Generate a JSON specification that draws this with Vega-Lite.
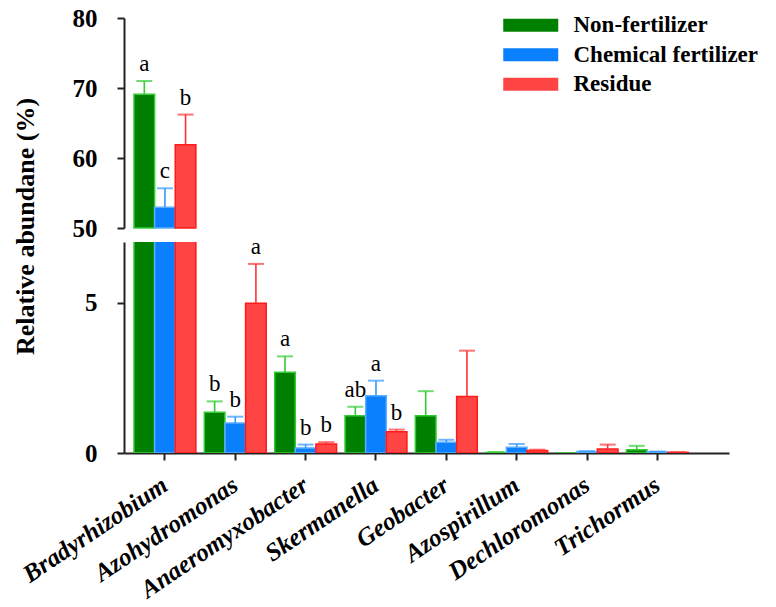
{
  "$schema": "https://vega.github.io/schema/vega-lite/v6.json",
  "background": "white",
  "padding": {"left": 11, "top": 6, "right": 5, "bottom": 5},
  "bounds": "flush",
  "config": {
    "view": {"stroke": null},
    "font": "Liberation Serif",
    "axis": {"grid": false, "domainColor": "#222222", "domainWidth": 2, "tickColor": "#222222", "tickWidth": 2, "tickSize": 7, "labelColor": "black", "labelFont": "Liberation Serif", "labelFontWeight": "bold", "titleFont": "Liberation Serif", "titleColor": "black"}
  },
  "datasets": {
    "d": [
      {"genus": "Bradyrhizobium", "treatment": "Non-fertilizer", "value": 69.1, "upper": 71.0, "label": "a"},
      {"genus": "Bradyrhizobium", "treatment": "Chemical fertilizer", "value": 52.95, "upper": 55.67, "label": "c"},
      {"genus": "Bradyrhizobium", "treatment": "Residue", "value": 61.9, "upper": 66.2, "label": "b"},
      {"genus": "Azohydromonas", "treatment": "Non-fertilizer", "value": 1.36, "upper": 1.72, "label": "b"},
      {"genus": "Azohydromonas", "treatment": "Chemical fertilizer", "value": 1.0, "upper": 1.21, "label": "b"},
      {"genus": "Azohydromonas", "treatment": "Residue", "value": 4.99, "upper": 6.3, "label": "a"},
      {"genus": "Anaeromyxobacter", "treatment": "Non-fertilizer", "value": 2.69, "upper": 3.22, "label": "a"},
      {"genus": "Anaeromyxobacter", "treatment": "Chemical fertilizer", "value": 0.17, "upper": 0.28, "label": "b"},
      {"genus": "Anaeromyxobacter", "treatment": "Residue", "value": 0.3, "upper": 0.36, "label": "b"},
      {"genus": "Skermanella", "treatment": "Non-fertilizer", "value": 1.24, "upper": 1.54, "label": "ab"},
      {"genus": "Skermanella", "treatment": "Chemical fertilizer", "value": 1.91, "upper": 2.41, "label": "a"},
      {"genus": "Skermanella", "treatment": "Residue", "value": 0.71, "upper": 0.78, "label": "b"},
      {"genus": "Geobacter", "treatment": "Non-fertilizer", "value": 1.24, "upper": 2.06, "label": ""},
      {"genus": "Geobacter", "treatment": "Chemical fertilizer", "value": 0.36, "upper": 0.44, "label": ""},
      {"genus": "Geobacter", "treatment": "Residue", "value": 1.88, "upper": 3.41, "label": ""},
      {"genus": "Azospirillum", "treatment": "Non-fertilizer", "value": 0.02, "upper": 0.03, "label": ""},
      {"genus": "Azospirillum", "treatment": "Chemical fertilizer", "value": 0.19, "upper": 0.3, "label": ""},
      {"genus": "Azospirillum", "treatment": "Residue", "value": 0.08, "upper": 0.11, "label": ""},
      {"genus": "Dechloromonas", "treatment": "Non-fertilizer", "value": 0.0, "upper": 0.0, "label": ""},
      {"genus": "Dechloromonas", "treatment": "Chemical fertilizer", "value": 0.05, "upper": 0.06, "label": ""},
      {"genus": "Dechloromonas", "treatment": "Residue", "value": 0.13, "upper": 0.28, "label": ""},
      {"genus": "Trichormus", "treatment": "Non-fertilizer", "value": 0.11, "upper": 0.24, "label": ""},
      {"genus": "Trichormus", "treatment": "Chemical fertilizer", "value": 0.04, "upper": 0.05, "label": ""},
      {"genus": "Trichormus", "treatment": "Residue", "value": 0.02, "upper": 0.03, "label": ""}
    ]
  },
  "spacing": 14,
  "resolve": {"scale": {"fill": "shared", "stroke": "shared", "color": "shared"}, "legend": {"fill": "independent", "stroke": "independent", "color": "independent"}},
  "vconcat": [
    {
      "width": 605,
      "height": 210,
      "data": {"name": "d"},
      "transform": [{"filter": "datum.genus === 'Bradyrhizobium'"}],
      "encoding": {
        "x": {"field": "genus", "type": "nominal", "sort": null,
              "scale": {"domain": ["Bradyrhizobium", "Azohydromonas", "Anaeromyxobacter", "Skermanella", "Geobacter", "Azospirillum", "Dechloromonas", "Trichormus"], "paddingInner": 0.12, "paddingOuter": 0.36, "align": 0.197},
              "axis": null},
        "xOffset": {"field": "treatment", "type": "nominal", "sort": null,
                    "scale": {"domain": ["Non-fertilizer", "Chemical fertilizer", "Residue"], "paddingInner": 0, "paddingOuter": 0}}
      },
      "layer": [
        {
          "mark": {"type": "bar", "strokeWidth": 1.5},
          "encoding": {
            "y": {"field": "value", "type": "quantitative",
                  "scale": {"domain": [50, 80], "nice": false, "zero": false},
                  "axis": {"values": [50, 60, 70, 80], "title": null, "labelFontSize": 25, "labelPadding": 20}},
            "y2": {"datum": 50},
            "fill": {"field": "treatment", "type": "nominal", "title": null,
                     "scale": {"domain": ["Non-fertilizer", "Chemical fertilizer", "Residue"], "range": ["#008000", "#0A80FF", "#FF4444"]},
                     "legend": {"orient": "none", "legendX": 392.75, "legendY": -6.75,
                                "symbolType": "M-2,-0.48H2V0.48H-2Z", "symbolSize": 756, "symbolStrokeWidth": 0, "symbolOpacity": 1,
                                "labelFont": "Liberation Serif", "labelFontWeight": "bold", "labelFontSize": 23, "labelColor": "black",
                                "labelOffset": 28.75, "rowPadding": 3.5, "labelLimit": 0}},
            "stroke": {"field": "treatment", "type": "nominal", "legend": null,
                       "scale": {"domain": ["Non-fertilizer", "Chemical fertilizer", "Residue"], "range": ["#33CC33", "#5AAEFF", "#FF1A1A"]}}
          }
        },
        {
          "mark": {"type": "rule", "strokeWidth": 1.6},
          "encoding": {
            "y": {"field": "value", "type": "quantitative"},
            "y2": {"field": "upper"},
            "color": {"field": "treatment", "type": "nominal", "legend": null,
                      "scale": {"domain": ["Non-fertilizer", "Chemical fertilizer", "Residue"], "range": ["#33CC33", "#3399FF", "#FF3333"]}}
          }
        },
        {
          "mark": {"type": "tick", "thickness": 2, "size": 16},
          "encoding": {
            "y": {"field": "upper", "type": "quantitative"},
            "color": {"field": "treatment", "type": "nominal", "legend": null}
          }
        },
        {
          "mark": {"type": "text", "dy": -10, "baseline": "alphabetic", "fontSize": 23, "font": "Liberation Serif", "color": "black"},
          "encoding": {
            "y": {"field": "upper", "type": "quantitative"},
            "text": {"field": "label"}
          }
        }
      ]
    },
    {
      "width": 605,
      "height": 211,
      "data": {"name": "d"},
      "encoding": {
        "x": {"field": "genus", "type": "nominal", "sort": null,
              "scale": {"domain": ["Bradyrhizobium", "Azohydromonas", "Anaeromyxobacter", "Skermanella", "Geobacter", "Azospirillum", "Dechloromonas", "Trichormus"], "paddingInner": 0.12, "paddingOuter": 0.36, "align": 0.197},
              "axis": {"title": null, "labelAngle": -34, "labelAlign": "right", "labelBaseline": "middle", "labelFontSize": 25, "labelFontStyle": "italic", "labelPadding": 22, "labelOverlap": false, "labelLimit": 0}},
        "xOffset": {"field": "treatment", "type": "nominal", "sort": null,
                    "scale": {"domain": ["Non-fertilizer", "Chemical fertilizer", "Residue"], "paddingInner": 0, "paddingOuter": 0}}
      },
      "layer": [
        {
          "mark": {"type": "bar", "strokeWidth": 1.5, "clip": true},
          "encoding": {
            "y": {"field": "value", "type": "quantitative",
                  "scale": {"domain": [0, 7.03], "nice": false, "zero": true},
                  "axis": {"values": [0, 5], "title": "Relative abundane (%)", "labelFontSize": 25, "labelPadding": 20,
                           "titleFontSize": 26, "titleFontWeight": "bold", "titleX": -99, "titleY": -16, "titleAngle": -90, "titleAlign": "center", "titleBaseline": "middle"}},
            "fill": {"field": "treatment", "type": "nominal", "title": null, "legend": null},
            "stroke": {"field": "treatment", "type": "nominal", "legend": null}
          }
        },
        {
          "mark": {"type": "rule", "strokeWidth": 1.6, "clip": true},
          "encoding": {
            "y": {"field": "value", "type": "quantitative"},
            "y2": {"field": "upper"},
            "color": {"field": "treatment", "type": "nominal", "legend": null}
          }
        },
        {
          "transform": [{"filter": "datum.upper > 0.001 && datum.genus !== 'Bradyrhizobium'"}],
          "mark": {"type": "tick", "thickness": 2, "size": 16},
          "encoding": {
            "y": {"field": "upper", "type": "quantitative"},
            "color": {"field": "treatment", "type": "nominal", "legend": null}
          }
        },
        {
          "transform": [{"filter": "datum.genus !== 'Bradyrhizobium'"}],
          "mark": {"type": "text", "dy": -10, "baseline": "alphabetic", "fontSize": 23, "font": "Liberation Serif", "color": "black"},
          "encoding": {
            "y": {"field": "upper", "type": "quantitative"},
            "text": {"field": "label"}
          }
        }
      ]
    }
  ]
}
